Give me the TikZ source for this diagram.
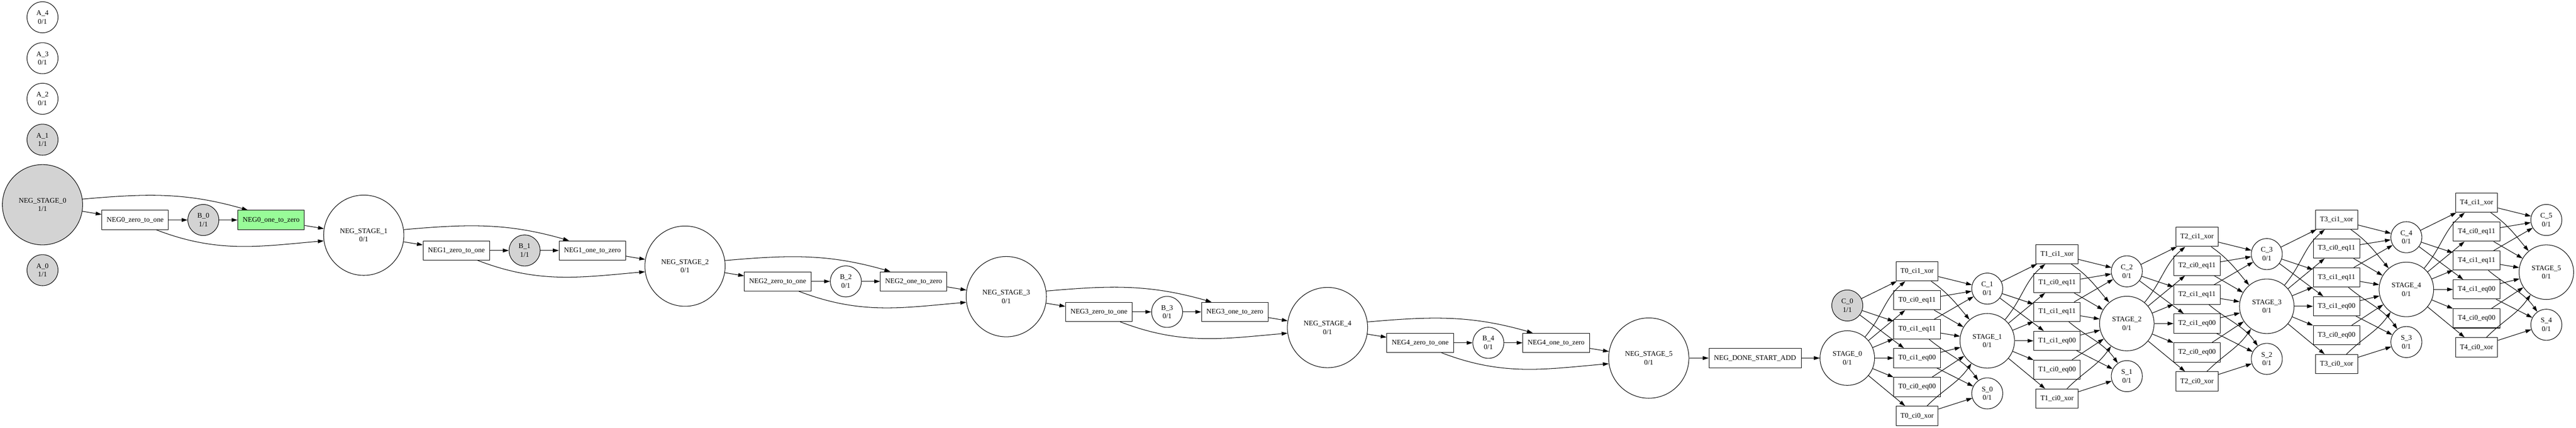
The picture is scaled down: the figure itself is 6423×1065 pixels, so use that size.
\documentclass[tikz,border=0pt]{standalone}
\usepackage{fontspec}
\setmainfont{Liberation Serif}
\usetikzlibrary{arrows.meta}
\definecolor{markgray}{HTML}{D3D3D3}
\definecolor{firegreen}{HTML}{98FB98}

\begin{document}
\begin{tikzpicture}[x=0.75pt, y=-0.75pt,
        every node/.append style={font=\fontsize{13.3pt}{16pt}\selectfont},
        place/.style={circle, draw, line width=1pt, inner sep=0pt, minimum size=58pt, align=center},
        stageplace/.style={place, minimum size=102pt},
        negplace/.style={place, minimum size=150pt},
        marked/.style={fill=markgray},
        trans/.style={rectangle, draw, line width=1pt, inner sep=0pt, minimum height=36pt},
        negtrans/.style={trans, minimum width=124.5pt},
        donetrans/.style={trans, minimum width=172.5pt},
        xortrans/.style={trans, minimum width=78.75pt},
        eqtrans/.style={trans, minimum width=87pt},
        fired/.style={fill=firegreen},
        flow/.style={line width=1pt, -{Triangle[length=11pt, width=7pt]}}]
        \useasboundingbox (0,0) rectangle (6423,1065);

        \node[place] (a4) at (106, 43) {A\_4\\0/1};
        \node[place] (a3) at (106, 145) {A\_3\\0/1};
        \node[place] (a2) at (106, 246) {A\_2\\0/1};
        \node[place, marked] (a1) at (106, 348) {A\_1\\1/1};
        \node[place, marked] (a0) at (106, 673) {A\_0\\1/1};

        \node[negplace, marked] (ns0) at (106, 510) {NEG\_STAGE\_0\\1/1};
        \node[negtrans] (zo0) at (337, 548) {NEG0\_zero\_to\_one};
        \node[place, marked] (b0) at (507, 548) {B\_0\\1/1};
        \node[negtrans, fired] (oz0) at (676, 548) {NEG0\_one\_to\_zero};
        \node[negplace] (ns1) at (907, 586) {NEG\_STAGE\_1\\0/1};
        \node[negtrans] (zo1) at (1138, 624) {NEG1\_zero\_to\_one};
        \node[place, marked] (b1) at (1308, 624) {B\_1\\1/1};
        \node[negtrans] (oz1) at (1477, 624) {NEG1\_one\_to\_zero};
        \node[negplace] (ns2) at (1708, 663) {NEG\_STAGE\_2\\0/1};
        \node[negtrans] (zo2) at (1939, 701) {NEG2\_zero\_to\_one};
        \node[place] (b2) at (2109, 701) {B\_2\\0/1};
        \node[negtrans] (oz2) at (2278, 701) {NEG2\_one\_to\_zero};
        \node[negplace] (ns3) at (2509, 739) {NEG\_STAGE\_3\\0/1};
        \node[negtrans] (zo3) at (2740, 777) {NEG3\_zero\_to\_one};
        \node[place] (b3) at (2910, 777) {B\_3\\0/1};
        \node[negtrans] (oz3) at (3079, 777) {NEG3\_one\_to\_zero};
        \node[negplace] (ns4) at (3310, 816) {NEG\_STAGE\_4\\0/1};
        \node[negtrans] (zo4) at (3541, 854) {NEG4\_zero\_to\_one};
        \node[place] (b4) at (3711, 854) {B\_4\\0/1};
        \node[negtrans] (oz4) at (3880, 854) {NEG4\_one\_to\_zero};
        \node[negplace] (ns5) at (4111, 892) {NEG\_STAGE\_5\\0/1};
        \node[donetrans] (done) at (4376, 892) {NEG\_DONE\_START\_ADD};

        \node[stageplace] (st0) at (4606, 892) {STAGE\_0\\0/1};
        \node[place, marked] (c0) at (4606, 761) {C\_0\\1/1};
        \node[xortrans] (t0c1x) at (4780, 676) {T0\_ci1\_xor};
        \node[eqtrans] (t0c0e11) at (4780, 748) {T0\_ci0\_eq11};
        \node[eqtrans] (t0c1e11) at (4780, 820) {T0\_ci1\_eq11};
        \node[eqtrans] (t0c1e00) at (4780, 892) {T0\_ci1\_eq00};
        \node[eqtrans] (t0c0e00) at (4780, 964) {T0\_ci0\_eq00};
        \node[xortrans] (t0c0x) at (4780, 1036) {T0\_ci0\_xor};
        \node[stageplace] (st1) at (4955, 849) {STAGE\_1\\0/1};
        \node[place] (c1) at (4955, 719) {C\_1\\0/1};
        \node[place] (s0) at (4955, 980) {S\_0\\0/1};
        \node[xortrans] (t1c1x) at (5129, 633) {T1\_ci1\_xor};
        \node[eqtrans] (t1c0e11) at (5129, 705) {T1\_ci0\_eq11};
        \node[eqtrans] (t1c1e11) at (5129, 777) {T1\_ci1\_eq11};
        \node[eqtrans] (t1c1e00) at (5129, 849) {T1\_ci1\_eq00};
        \node[eqtrans] (t1c0e00) at (5129, 921) {T1\_ci0\_eq00};
        \node[xortrans] (t1c0x) at (5129, 993) {T1\_ci0\_xor};
        \node[stageplace] (st2) at (5303, 806) {STAGE\_2\\0/1};
        \node[place] (c2) at (5303, 676) {C\_2\\0/1};
        \node[place] (s1) at (5303, 937) {S\_1\\0/1};
        \node[xortrans] (t2c1x) at (5478, 590) {T2\_ci1\_xor};
        \node[eqtrans] (t2c0e11) at (5478, 662) {T2\_ci0\_eq11};
        \node[eqtrans] (t2c1e11) at (5478, 734) {T2\_ci1\_eq11};
        \node[eqtrans] (t2c1e00) at (5478, 806) {T2\_ci1\_eq00};
        \node[eqtrans] (t2c0e00) at (5478, 878) {T2\_ci0\_eq00};
        \node[xortrans] (t2c0x) at (5478, 950) {T2\_ci0\_xor};
        \node[stageplace] (st3) at (5652, 763) {STAGE\_3\\0/1};
        \node[place] (c3) at (5652, 633) {C\_3\\0/1};
        \node[place] (s2) at (5652, 894) {S\_2\\0/1};
        \node[xortrans] (t3c1x) at (5826, 547) {T3\_ci1\_xor};
        \node[eqtrans] (t3c0e11) at (5826, 619) {T3\_ci0\_eq11};
        \node[eqtrans] (t3c1e11) at (5826, 691) {T3\_ci1\_eq11};
        \node[eqtrans] (t3c1e00) at (5826, 763) {T3\_ci1\_eq00};
        \node[eqtrans] (t3c0e00) at (5826, 835) {T3\_ci0\_eq00};
        \node[xortrans] (t3c0x) at (5826, 907) {T3\_ci0\_xor};
        \node[stageplace] (st4) at (6000, 721) {STAGE\_4\\0/1};
        \node[place] (c4) at (6000, 591) {C\_4\\0/1};
        \node[place] (s3) at (6000, 852) {S\_3\\0/1};
        \node[xortrans] (t4c1x) at (6175, 505) {T4\_ci1\_xor};
        \node[eqtrans] (t4c0e11) at (6175, 577) {T4\_ci0\_eq11};
        \node[eqtrans] (t4c1e11) at (6175, 649) {T4\_ci1\_eq11};
        \node[eqtrans] (t4c1e00) at (6175, 721) {T4\_ci1\_eq00};
        \node[eqtrans] (t4c0e00) at (6175, 793) {T4\_ci0\_eq00};
        \node[xortrans] (t4c0x) at (6175, 865) {T4\_ci0\_xor};
        \node[stageplace] (st5) at (6349, 678) {STAGE\_5\\0/1};
        \node[place] (c5) at (6349, 548) {C\_5\\0/1};
        \node[place] (s4) at (6349, 809) {S\_4\\0/1};

        \path[flow] (ns0) edge (zo0)
              (ns0.8) edge[out=5, in=164] (oz0.157)
              (zo0) edge (b0)
              (b0) edge (oz0)
              (oz0) edge (ns1)
              (zo0.335) edge[out=-21, in=185] (ns1.188)
              (ns1) edge (zo1)
              (ns1.8) edge[out=5, in=164] (oz1.157)
              (zo1) edge (b1)
              (b1) edge (oz1)
              (oz1) edge (ns2)
              (zo1.335) edge[out=-21, in=185] (ns2.188)
              (ns2) edge (zo2)
              (ns2.8) edge[out=5, in=164] (oz2.157)
              (zo2) edge (b2)
              (b2) edge (oz2)
              (oz2) edge (ns3)
              (zo2.335) edge[out=-21, in=185] (ns3.188)
              (ns3) edge (zo3)
              (ns3.8) edge[out=5, in=164] (oz3.157)
              (zo3) edge (b3)
              (b3) edge (oz3)
              (oz3) edge (ns4)
              (zo3.335) edge[out=-21, in=185] (ns4.188)
              (ns4) edge (zo4)
              (ns4.8) edge[out=5, in=164] (oz4.157)
              (zo4) edge (b4)
              (b4) edge (oz4)
              (oz4) edge (ns5)
              (zo4.335) edge[out=-21, in=185] (ns5.188)
              (ns5) edge (done)
              (done) edge (st0);

        \path[flow] (st0) edge[out=50, in=220] (t0c1x)
              (st0) edge (t0c0e11)
              (st0) edge (t0c1e11)
              (st0) edge (t0c1e00)
              (st0) edge (t0c0e00)
              (st0) edge (t0c0x)
              (c0) edge (t0c1x)
              (c0) edge (t0c1e11)
              (c0) edge (t0c1e00)
              (t0c1x) edge (c1)
              (t0c1x) edge[out=-35, in=130] (st1)
              (t0c0e11) edge (c1)
              (t0c0e11) edge (st1)
              (t0c1e11) edge (c1)
              (t0c1e11) edge (st1)
              (t0c1e11) edge[out=-40, in=125] (s0)
              (t0c1e00) edge (st1)
              (t0c1e00) edge (s0)
              (t0c0e00) edge (st1)
              (t0c0x) edge[out=45, in=235] (st1)
              (t0c0x) edge (s0);

        \path[flow] (st1) edge[out=50, in=220] (t1c1x)
              (st1) edge (t1c0e11)
              (st1) edge (t1c1e11)
              (st1) edge (t1c1e00)
              (st1) edge (t1c0e00)
              (st1) edge (t1c0x)
              (c1) edge (t1c1x)
              (c1) edge (t1c1e11)
              (c1) edge (t1c1e00)
              (t1c1x) edge (c2)
              (t1c1x) edge[out=-35, in=130] (st2)
              (t1c0e11) edge (c2)
              (t1c0e11) edge (st2)
              (t1c1e11) edge (c2)
              (t1c1e11) edge (st2)
              (t1c1e11) edge[out=-40, in=125] (s1)
              (t1c1e00) edge (st2)
              (t1c1e00) edge (s1)
              (t1c0e00) edge (st2)
              (t1c0x) edge[out=45, in=235] (st2)
              (t1c0x) edge (s1);

        \path[flow] (st2) edge[out=50, in=220] (t2c1x)
              (st2) edge (t2c0e11)
              (st2) edge (t2c1e11)
              (st2) edge (t2c1e00)
              (st2) edge (t2c0e00)
              (st2) edge (t2c0x)
              (c2) edge (t2c1x)
              (c2) edge (t2c1e11)
              (c2) edge (t2c1e00)
              (t2c1x) edge (c3)
              (t2c1x) edge[out=-35, in=130] (st3)
              (t2c0e11) edge (c3)
              (t2c0e11) edge (st3)
              (t2c1e11) edge (c3)
              (t2c1e11) edge (st3)
              (t2c1e11) edge[out=-40, in=125] (s2)
              (t2c1e00) edge (st3)
              (t2c1e00) edge (s2)
              (t2c0e00) edge (st3)
              (t2c0x) edge[out=45, in=235] (st3)
              (t2c0x) edge (s2);

        \path[flow] (st3) edge[out=50, in=220] (t3c1x)
              (st3) edge (t3c0e11)
              (st3) edge (t3c1e11)
              (st3) edge (t3c1e00)
              (st3) edge (t3c0e00)
              (st3) edge (t3c0x)
              (c3) edge (t3c1x)
              (c3) edge (t3c1e11)
              (c3) edge (t3c1e00)
              (t3c1x) edge (c4)
              (t3c1x) edge[out=-35, in=130] (st4)
              (t3c0e11) edge (c4)
              (t3c0e11) edge (st4)
              (t3c1e11) edge (c4)
              (t3c1e11) edge (st4)
              (t3c1e11) edge[out=-40, in=125] (s3)
              (t3c1e00) edge (st4)
              (t3c1e00) edge (s3)
              (t3c0e00) edge (st4)
              (t3c0x) edge[out=45, in=235] (st4)
              (t3c0x) edge (s3);

        \path[flow] (st4) edge[out=50, in=220] (t4c1x)
              (st4) edge (t4c0e11)
              (st4) edge (t4c1e11)
              (st4) edge (t4c1e00)
              (st4) edge (t4c0e00)
              (st4) edge (t4c0x)
              (c4) edge (t4c1x)
              (c4) edge (t4c1e11)
              (c4) edge (t4c1e00)
              (t4c1x) edge (c5)
              (t4c1x) edge[out=-35, in=130] (st5)
              (t4c0e11) edge (c5)
              (t4c0e11) edge (st5)
              (t4c1e11) edge (c5)
              (t4c1e11) edge (st5)
              (t4c1e11) edge[out=-40, in=125] (s4)
              (t4c1e00) edge (st5)
              (t4c1e00) edge (s4)
              (t4c0e00) edge (st5)
              (t4c0x) edge[out=45, in=235] (st5)
              (t4c0x) edge (s4);
    \end{tikzpicture}
\end{document}
